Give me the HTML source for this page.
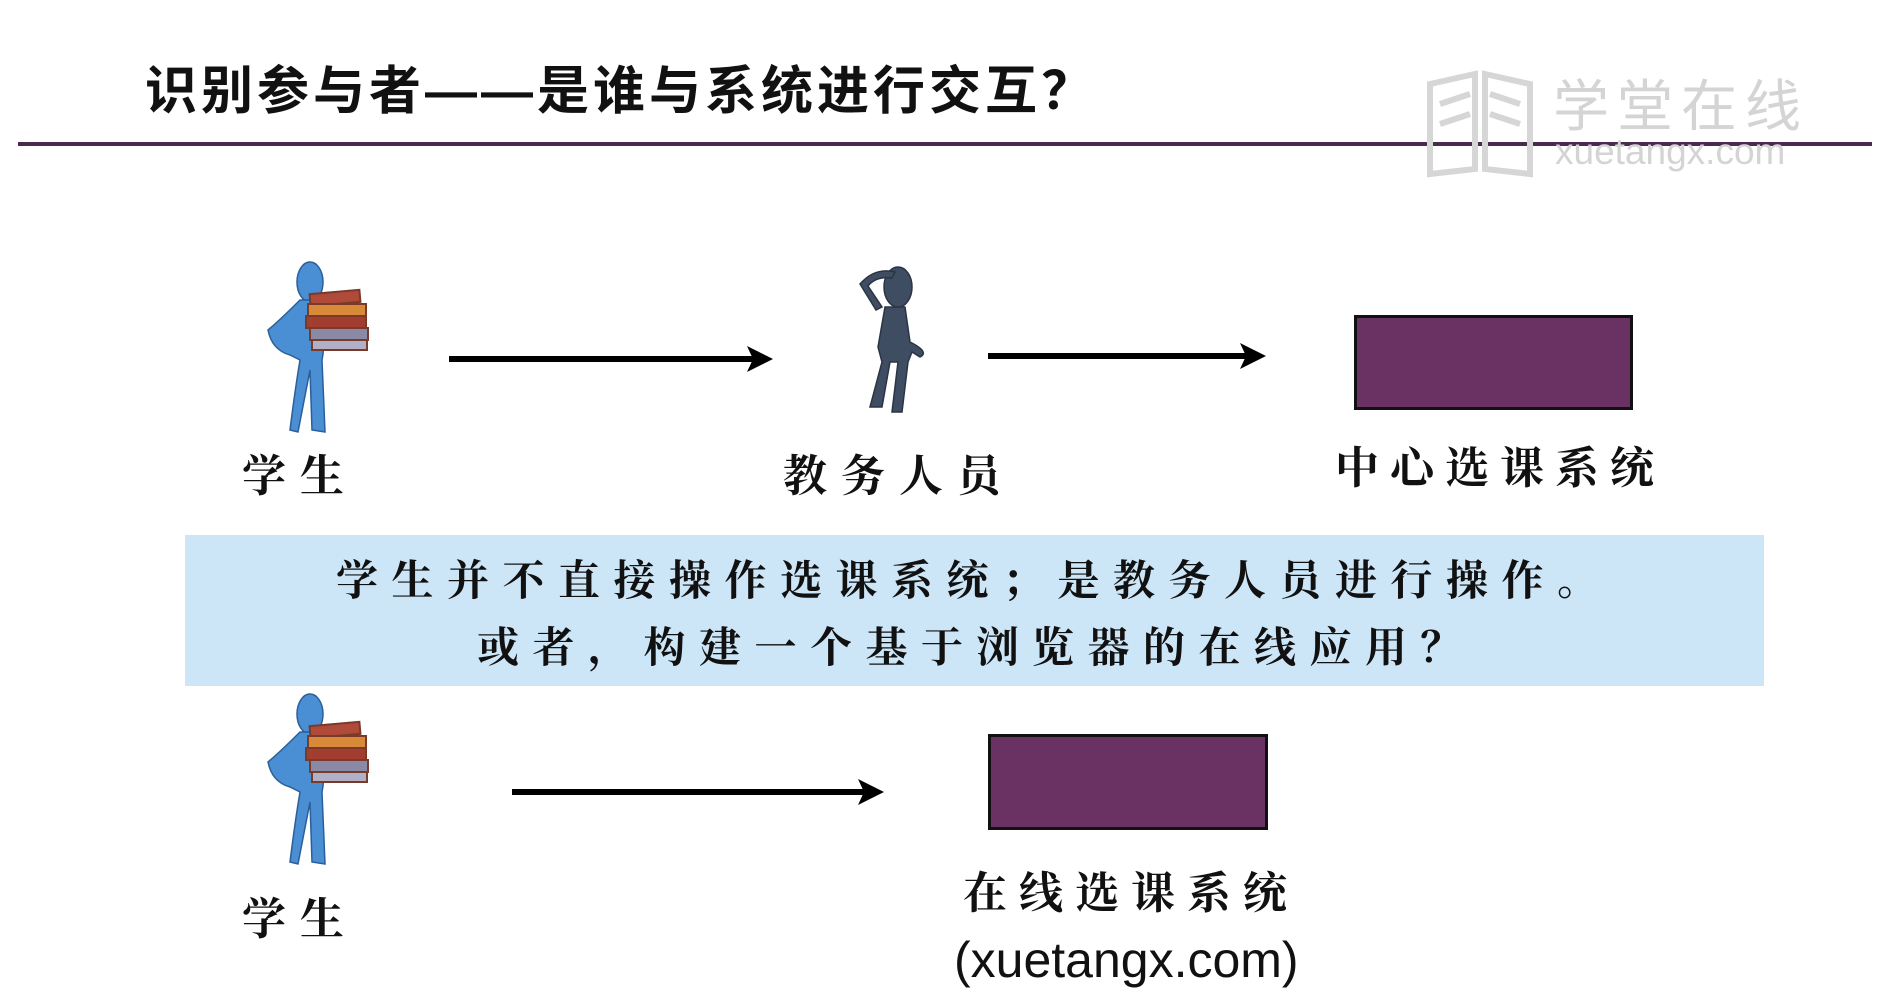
<!DOCTYPE html>
<html><head><meta charset="utf-8"><style>
html,body{margin:0;padding:0;background:#fff;}
body{width:1894px;height:992px;position:relative;overflow:hidden;font-family:"Liberation Sans","Noto Sans CJK SC",sans-serif;}
.a{position:absolute;white-space:nowrap;}
.lbl{font-family:"Liberation Serif","Noto Serif CJK SC",serif;font-weight:bold;font-size:44px;color:#111;letter-spacing:14px;line-height:1;}
.rect{position:absolute;background:#6a3262;border:3px solid #111;box-sizing:border-box;}
</style></head><body>
<div class="a" style="left:145px;top:62px;font-size:52px;letter-spacing:4px;font-weight:bold;color:#111;font-family:'Liberation Sans','Noto Sans CJK SC',sans-serif;line-height:60px;">识别参与者——是谁与系统进行交互？</div>
<div class="a" style="left:18px;top:142px;width:1854px;height:4px;background:#4b2a4f;"></div>
<svg class="a" style="left:1425px;top:64px" width="400" height="115">
 <g fill="none" stroke="#d6d6d6" stroke-width="6">
  <path d="M5 20 L50 10 L50 105 L5 110 Z"/><path d="M60 10 L105 20 L105 110 L60 105 Z"/>
  <path d="M15 40 L45 30 M15 60 L45 50 M65 30 L95 40 M65 50 L95 60"/>
 </g>
 <text x="128" y="62" font-size="56" fill="#d4d4d4" font-family="Noto Sans CJK SC,sans-serif" letter-spacing="8">学堂在线</text>
 <text x="130" y="100" font-size="37" fill="#d4d4d4" font-family="Liberation Sans,sans-serif">xuetangx.com</text>
</svg>
<svg class="a" style="left:250px;top:260px" width="140" height="180" viewBox="0 0 140 180">
 <g fill="#4a8fd4" stroke="#2a5f9a" stroke-width="1.5">
  <ellipse cx="60" cy="22" rx="13" ry="20"/>
  <path d="M50 40 Q30 60 18 70 Q22 90 40 95 L50 100 Q45 130 40 170 L48 172 L60 110 L62 170 L75 172 L72 100 Q78 70 65 40 Z"/>
 </g>
 <g stroke="#7a3a2a" stroke-width="2">
  <rect x="60" y="32" width="50" height="12" fill="#b04a3a" transform="rotate(-5 85 38)"/>
  <rect x="58" y="44" width="58" height="12" fill="#d88a3a"/>
  <rect x="56" y="56" width="60" height="12" fill="#a33d30"/>
  <rect x="60" y="68" width="58" height="12" fill="#8a8aa6"/>
  <rect x="62" y="80" width="55" height="10" fill="#b0b0c6"/>
 </g>
</svg>
<svg class="a" style="left:840px;top:262px" width="100" height="155" viewBox="0 0 100 155">
 <g fill="#3f4d62" stroke="#2b3444" stroke-width="1.5">
  <ellipse cx="58" cy="25" rx="14" ry="20"/>
  <path d="M20 22 Q35 5 55 10 L52 16 Q36 14 28 24 L42 45 L36 48 Z"/>
  <path d="M45 45 L65 45 L70 80 Q90 90 80 95 L72 90 L68 100 L62 150 L52 150 L58 100 L50 100 L42 145 L30 145 L42 100 L38 85 Z"/>
 </g>
</svg>
<svg class="a" style="left:0;top:0" width="1894" height="992">
 <g stroke="#000" stroke-width="6"><line x1="449" y1="359" x2="760" y2="359"/><line x1="988" y1="356" x2="1252" y2="356"/><line x1="512" y1="792" x2="870" y2="792"/></g>
 <g fill="#000"><path d="M773 359 L747 346 L753 359 L747 372 Z"/><path d="M1266 356 L1240 343 L1246 356 L1240 369 Z"/><path d="M884 792 L858 779 L864 792 L858 805 Z"/></g>
</svg>
<div class="rect" style="left:1354px;top:315px;width:279px;height:95px;"></div>
<div class="a lbl" style="left:242px;top:455px;">学生</div>
<div class="a lbl" style="left:783px;top:455px;">教务人员</div>
<div class="a lbl" style="left:1335px;top:447px;letter-spacing:11px;">中心选课系统</div>
<div class="a" style="left:185px;top:535px;width:1579px;height:151px;background:#cde6f7;"></div>
<div class="a lbl" style="left:336px;top:561px;font-size:42px;letter-spacing:13.5px;">学生并不直接操作选课系统；是教务人员进行操作。</div>
<div class="a lbl" style="left:477px;top:628px;font-size:42px;letter-spacing:13.5px;">或者，构建一个基于浏览器的在线应用？</div>
<svg class="a" style="left:250px;top:692px" width="140" height="180" viewBox="0 0 140 180">
 <g fill="#4a8fd4" stroke="#2a5f9a" stroke-width="1.5">
  <ellipse cx="60" cy="22" rx="13" ry="20"/>
  <path d="M50 40 Q30 60 18 70 Q22 90 40 95 L50 100 Q45 130 40 170 L48 172 L60 110 L62 170 L75 172 L72 100 Q78 70 65 40 Z"/>
 </g>
 <g stroke="#7a3a2a" stroke-width="2">
  <rect x="60" y="32" width="50" height="12" fill="#b04a3a" transform="rotate(-5 85 38)"/>
  <rect x="58" y="44" width="58" height="12" fill="#d88a3a"/>
  <rect x="56" y="56" width="60" height="12" fill="#a33d30"/>
  <rect x="60" y="68" width="58" height="12" fill="#8a8aa6"/>
  <rect x="62" y="80" width="55" height="10" fill="#b0b0c6"/>
 </g>
</svg>
<div class="rect" style="left:988px;top:734px;width:280px;height:96px;"></div>
<div class="a lbl" style="left:242px;top:898px;">学生</div>
<div class="a lbl" style="left:963px;top:872px;letter-spacing:12px;">在线选课系统</div>
<div class="a" style="left:954px;top:932px;font-size:50px;color:#111;line-height:56px;">(xuetangx.com)</div>
</body></html>
